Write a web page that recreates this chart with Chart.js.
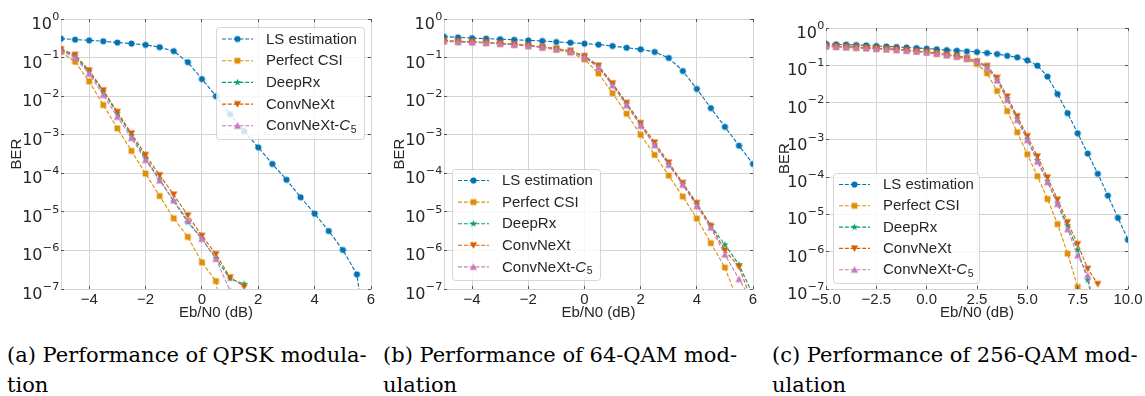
<!DOCTYPE html>
<html>
<head>
<meta charset="utf-8">
<script src="https://cdn.jsdelivr.net/npm/chart.js"></script>
<style>
  body { margin: 0; background: #fff; width: 1145px; height: 396px; overflow: hidden; position: relative; }
  .panel { position: absolute; top: 0; }
  .caption { position: absolute; top: 340px; font-family: "DejaVu Serif", serif; font-size: 21px; line-height: 30px; color: #000; white-space: nowrap; }
</style>
</head>
<body>
<canvas id="graficaA" class="panel" width="380" height="325" style="left:0px"></canvas>
<canvas id="graficaB" class="panel" width="385" height="325" style="left:380px"></canvas>
<canvas id="graficaC" class="panel" width="385" height="325" style="left:760px"></canvas>
<div class="caption" style="left:7px">(a) Performance of QPSK modula-<br>tion</div>
<div class="caption" style="left:383px">(b) Performance of 64-QAM mod-<br>ulation</div>
<div class="caption" style="left:772px">(c) Performance of 256-QAM mod-<br>ulation</div>
<script>
// Eb/N0 (dB) de cada figura
const snrQpsk = [-5, -4.5, -4, -3.5, -3, -2.5, -2, -1.5, -1, -0.5, 0, 0.5, 1, 1.5, 2, 2.5, 3, 3.5, 4, 4.5, 5, 5.5, 6];
const snr64 = [-5, -4.5, -4, -3.5, -3, -2.5, -2, -1.5, -1, -0.5, 0, 0.5, 1, 1.5, 2, 2.5, 3, 3.5, 4, 4.5, 5, 5.5, 6];
const snr256 = [-5, -4.5, -4, -3.5, -3, -2.5, -2, -1.5, -1, -0.5, 0, 0.5, 1, 1.5, 2, 2.5, 3, 3.5, 4, 4.5, 5, 5.5, 6, 6.5, 7, 7.5, 8, 8.5, 9, 9.5, 10];

const nombres = ['LS estimation', 'Perfect CSI', 'DeepRx', 'ConvNeXt', 'ConvNeXt-C₅'];

// (a) QPSK
const lsQpsk = [0.31, 0.293, 0.28, 0.265, 0.245, 0.231, 0.214, 0.186, 0.147, 0.076, 0.0278, 0.0100, 0.0034, 0.00124, 4.7e-4, 1.75e-4, 6.8e-5, 2.4e-5, 9.0e-6, 3.2e-6, 1.03e-6, 2.4e-7, 5e-10];
const perfectQpsk = [0.141, 0.078, 0.024, 0.0059, 0.00146, 3.8e-4, 9.8e-5, 2.57e-5, 6.8e-6, 2.24e-6, 4.9e-7, 1.6e-7, 4e-10];
const deeprxQpsk = [0.158, 0.109, 0.043, 0.0131, 0.0036, 9.4e-4, 2.5e-4, 6.8e-5, 1.9e-5, 5.4e-6, 2.0e-6, 6.2e-7, 1.85e-7, 1.35e-7];
const convnextQpsk = [0.165, 0.118, 0.0465, 0.0142, 0.0039, 0.00108, 3.0e-4, 8.9e-5, 2.8e-5, 8.1e-6, 2.4e-6, 8.0e-7, 2.0e-7, 1.15e-7];
const c5Qpsk = [0.15, 0.1, 0.038, 0.0107, 0.0029, 8.2e-4, 2.2e-4, 6.5e-5, 2.0e-5, 6.0e-6, 2.0e-6, 6.0e-7, 9e-8];

// (b) 64-QAM
const ls64 = [0.35, 0.335, 0.32, 0.31, 0.30, 0.29, 0.28, 0.27, 0.254, 0.244, 0.23, 0.217, 0.20, 0.18, 0.164, 0.14, 0.098, 0.045, 0.0154, 0.0049, 0.0016, 5.2e-4, 1.75e-4];
const perfect64 = [0.264, 0.254, 0.25, 0.24, 0.225, 0.212, 0.20, 0.18, 0.16, 0.134, 0.09, 0.039, 0.0119, 0.0035, 0.001, 3.0e-4, 8.7e-5, 2.5e-5, 6.7e-6, 1.55e-6, 3.6e-7, 4e-8];
const deeprx64 = [0.27, 0.26, 0.254, 0.242, 0.232, 0.22, 0.204, 0.188, 0.168, 0.148, 0.106, 0.058, 0.02, 0.0062, 0.0018, 5.5e-4, 1.7e-4, 5.2e-5, 1.55e-5, 4.4e-6, 1.4e-6, 4.3e-7, 7e-8];
const convnext64 = [0.275, 0.264, 0.257, 0.245, 0.235, 0.223, 0.207, 0.19, 0.17, 0.151, 0.11, 0.062, 0.0215, 0.0067, 0.002, 6.3e-4, 1.9e-4, 5.6e-5, 1.7e-5, 4.3e-6, 1.0e-6, 3.8e-7, 4e-8];
const c564 = [0.266, 0.256, 0.25, 0.239, 0.229, 0.217, 0.2, 0.185, 0.165, 0.145, 0.10, 0.055, 0.019, 0.0058, 0.0017, 5.3e-4, 1.65e-4, 5.0e-5, 1.4e-5, 3.9e-6, 7.8e-7, 1.8e-7, 4.4e-8];

// (c) 256-QAM
const ls256 = [0.38, 0.365, 0.36, 0.35, 0.343, 0.33, 0.32, 0.31, 0.30, 0.29, 0.28, 0.27, 0.257, 0.247, 0.237, 0.228, 0.214, 0.20, 0.18, 0.164, 0.136, 0.098, 0.05, 0.017, 0.0052, 0.0015, 4.3e-4, 1.23e-4, 3.2e-5, 8.1e-6, 2.1e-6];
const perfect256 = [0.316, 0.31, 0.30, 0.29, 0.285, 0.274, 0.267, 0.257, 0.247, 0.232, 0.218, 0.20, 0.185, 0.167, 0.145, 0.109, 0.061, 0.0205, 0.0059, 0.0016, 4.1e-4, 1.06e-4, 2.6e-5, 5.5e-6, 8.9e-7, 1.13e-7];
const deeprx256 = [0.33, 0.32, 0.31, 0.30, 0.295, 0.285, 0.275, 0.265, 0.25, 0.24, 0.225, 0.21, 0.19, 0.175, 0.155, 0.123, 0.088, 0.04, 0.0128, 0.0037, 1.05e-3, 2.8e-4, 7.8e-5, 2.0e-5, 5.0e-6, 1.1e-6, 1.75e-7, 1e-8];
const convnext256 = [0.335, 0.325, 0.315, 0.305, 0.298, 0.288, 0.278, 0.268, 0.254, 0.243, 0.228, 0.213, 0.193, 0.178, 0.158, 0.128, 0.096, 0.046, 0.0145, 0.0043, 0.00126, 3.6e-4, 9.8e-5, 2.5e-5, 6.2e-6, 1.6e-6, 3.5e-7, 1.36e-7];
const c5256 = [0.325, 0.315, 0.305, 0.296, 0.29, 0.28, 0.27, 0.26, 0.246, 0.236, 0.222, 0.207, 0.188, 0.172, 0.152, 0.125, 0.088, 0.039, 0.0118, 0.0034, 9.8e-4, 2.6e-4, 7.3e-5, 1.9e-5, 4.0e-6, 8.0e-7, 2.3e-7, 1e-8];

// ejes
const xTicksAB = [-4, -2, 0, 2, 4, 6];
const xLabelsAB = ['−4', '−2', '0', '2', '4', '6'];
const xTicksC = [-5, -2.5, 0, 2.5, 5, 7.5, 10];
const xLabelsC = ['−5.0', '−2.5', '0.0', '2.5', '5.0', '7.5', '10.0'];
const yTicks = [1e-7, 1e-6, 1e-5, 1e-4, 1e-3, 1e-2, 1e-1, 1];
const yLabels = ['10⁻⁷', '10⁻⁶', '10⁻⁵', '10⁻⁴', '10⁻³', '10⁻²', '10⁻¹', '10⁰'];

const colores = ['#0173b2', '#de8f05', '#029e73', '#d55e00', '#cc78bc'];
const formas = ['circle', 'square', 'star', 'down', 'up'];
const textoColor = '#262626';
const gris = '#d4d4d4';

Chart.defaults.font.family = '"Liberation Sans", Arial, sans-serif';
Chart.defaults.color = textoColor;

function crearMarcador(forma, color) {
    const c = document.createElement('canvas');
    c.width = 9; c.height = 9;
    const g = c.getContext('2d');
    const m = 4.5;
    g.fillStyle = color;
    g.beginPath();
    if (forma === 'circle') g.arc(m, m, 3.1, 0, Math.PI * 2);
    else if (forma === 'square') g.rect(m - 2.9, m - 2.9, 5.8, 5.8);
    else if (forma === 'star') {
        for (let k = 0; k < 10; k++) {
            const r = k % 2 ? 1.6 : 3.8;
            const a = -Math.PI / 2 + k * Math.PI / 5;
            g.lineTo(m + r * Math.cos(a), m + r * Math.sin(a));
        }
        g.closePath();
    } else if (forma === 'down') {
        g.moveTo(m - 3.6, m - 3); g.lineTo(m + 3.6, m - 3); g.lineTo(m, m + 3.4); g.closePath();
    } else {
        g.moveTo(m - 3.6, m + 3); g.lineTo(m + 3.6, m + 3); g.lineTo(m, m - 3.4); g.closePath();
    }
    g.fill();
    return c;
}

function juntar(x, y) {
    return y.map((v, i) => ({ x: x[i], y: v }));
}

function dibujarEtiqueta(ctx, texto, x, y) {
    ctx.font = '15px "Liberation Sans"';
    if (texto.endsWith('C₅')) {
        const base = texto.slice(0, -2);
        ctx.fillText(base, x, y);
        let w = ctx.measureText(base).width;
        ctx.font = 'italic 15px "Liberation Sans"';
        ctx.fillText('C', x + w, y);
        w += ctx.measureText('C').width;
        ctx.font = '10.5px "Liberation Sans"';
        ctx.fillText('5', x + w + 0.5, y + 4);
    } else {
        ctx.fillText(texto, x, y);
    }
}

// superindices unicode -> texto normal para escribir el exponente
const normal = { '⁻': '−', '⁰': '0', '¹': '1', '²': '2', '³': '3', '⁴': '4', '⁵': '5', '⁶': '6', '⁷': '7' };

// etiquetas 10^n del eje Y con exponente grande (como mathtext)
const pluginPotencias = {
    id: 'potenciasY',
    afterDraw(chart) {
        const { ctx, chartArea, scales } = chart;
        const y = scales.y;
        ctx.save();
        ctx.fillStyle = textoColor;
        ctx.textBaseline = 'alphabetic';
        ctx.textAlign = 'left';
        y.ticks.forEach(t => {
            const lab = yLabels[yTicks.indexOf(t.value)];
            const base = lab.slice(0, 2);
            const exp = Array.from(lab.slice(2)).map(ch => normal[ch]).join('');
            const py = y.getPixelForValue(t.value);
            ctx.font = '16px "DejaVu Sans"';
            const w1 = ctx.measureText(base).width;
            ctx.font = '11.2px "DejaVu Sans"';
            const w2 = ctx.measureText(exp).width;
            const x0 = chartArea.left - 2 - w2 - w1;
            ctx.font = '16px "DejaVu Sans"';
            ctx.fillText(base, x0, py + 10);
            ctx.font = '11.2px "DejaVu Sans"';
            ctx.fillText(exp, x0 + w1 + 0.3, py + 0.8);
        });
        ctx.restore();
    }
};

// leyenda dentro del area del grafico (como en matplotlib)
const pluginLeyenda = {
    id: 'leyendaInterna',
    afterDraw(chart, args, opts) {
        const { ctx, chartArea } = chart;
        const w = opts.ancho, h = opts.alto;
        const left = opts.esquina === 'tr' ? chartArea.right - opts.dx - w : chartArea.left + opts.dx;
        const top = opts.esquina === 'tr' ? chartArea.top + opts.dy : chartArea.bottom - opts.dy - h;
        ctx.save();
        ctx.beginPath();
        ctx.roundRect(left + 0.5, top + 0.5, w, h, 3);
        ctx.fillStyle = 'rgba(255,255,255,0.8)';
        ctx.fill();
        ctx.strokeStyle = 'rgba(204,204,204,0.8)';
        ctx.lineWidth = 1;
        ctx.stroke();
        ctx.textBaseline = 'middle';
        chart.data.datasets.forEach((ds, i) => {
            const cy = top + opts.primera + i * opts.paso;
            ctx.strokeStyle = ds.borderColor;
            ctx.lineWidth = ds.borderWidth;
            ctx.setLineDash(ds.borderDash);
            ctx.beginPath();
            ctx.moveTo(left + 6, cy);
            ctx.lineTo(left + 37, cy);
            ctx.stroke();
            ctx.setLineDash([]);
            const img = ds.pointStyle;
            ctx.drawImage(img, left + 21.5 - img.width / 2, cy - img.height / 2);
            ctx.fillStyle = textoColor;
            dibujarEtiqueta(ctx, ds.label, left + 50, cy + 0.5);
        });
        ctx.restore();
    }
};

// marcas cortas hacia dentro en los cuatro lados
const pluginMarcas = {
    id: 'marcasInternas',
    afterDatasetsDraw(chart) {
        const { ctx, chartArea: a, scales } = chart;
        const al = (p) => Math.round(p - 0.5) + 0.5;
        ctx.save();
        ctx.strokeStyle = '#555555';
        ctx.lineWidth = 1;
        ctx.beginPath();
        scales.x.ticks.forEach(t => {
            const px = al(scales.x.getPixelForValue(t.value));
            ctx.moveTo(px, a.bottom); ctx.lineTo(px, a.bottom - 3);
            ctx.moveTo(px, a.top); ctx.lineTo(px, a.top + 3);
        });
        scales.y.ticks.forEach(t => {
            const py = al(scales.y.getPixelForValue(t.value));
            ctx.moveTo(a.left, py); ctx.lineTo(a.left + 3, py);
            ctx.moveTo(a.right, py); ctx.lineTo(a.right - 3, py);
        });
        ctx.stroke();
        ctx.restore();
    }
};

function crearGrafica(id, snr, series, cfg) {
    const datasets = series.map((s, i) => ({
        label: nombres[i],
        data: juntar(snr, s),
        borderColor: colores[i],
        backgroundColor: colores[i],
        borderWidth: 1.1,
        borderDash: [4, 1.8],
        pointStyle: crearMarcador(formas[i], colores[i]),
        pointRadius: 3,
        order: series.length - i,
        tension: 0
    }));
    const config = {
        type: 'line',
        data: { datasets },
        plugins: [pluginMarcas, pluginPotencias, pluginLeyenda],
        options: {
            responsive: false,
            animation: false,
            events: [],
            devicePixelRatio: 1,
            layout: { autoPadding: false, padding: { top: cfg.padTop, right: cfg.padRight, left: 0, bottom: 0 } },
            plugins: {
                legend: { display: false },
                tooltip: { enabled: false },
                leyendaInterna: cfg.leyenda
            },
            scales: {
                x: {
                    type: 'linear',
                    min: cfg.xMin,
                    max: cfg.xMax,
                    afterBuildTicks: (s) => { s.ticks = cfg.xTicks.map(v => ({ value: v })); },
                    afterFit: (s) => { s.height = 36; },
                    ticks: {
                        autoSkip: false,
                        maxRotation: 0,
                        padding: 2,
                        font: { size: 15 },
                        callback: (v) => cfg.xLabels[cfg.xTicks.indexOf(v)]
                    },
                    grid: { color: gris, lineWidth: 1, drawTicks: false },
                    border: { color: gris },
                    title: { display: true, text: 'Eb/N0 (dB)', font: { size: 15 }, padding: { top: 0, bottom: 3 } }
                },
                y: {
                    type: 'logarithmic',
                    min: 1e-7,
                    max: 1,
                    afterBuildTicks: (s) => { s.ticks = yTicks.map(v => ({ value: v, major: true })); },
                    afterFit: (s) => { s.width = cfg.yAncho; },
                    ticks: {
                        display: false,
                        autoSkip: false,
                        callback: (v) => yLabels[yTicks.indexOf(v)]
                    },
                    grid: { color: gris, lineWidth: 1, drawTicks: false },
                    border: { color: gris },
                    title: { display: true, text: 'BER', font: { size: 15 }, padding: { top: cfg.tituloY, bottom: 0 } }
                }
            }
        }
    };
    return new Chart(document.getElementById(id), config);
}

crearGrafica('graficaA', snrQpsk, [lsQpsk, perfectQpsk, deeprxQpsk, convnextQpsk, c5Qpsk], {
    xMin: -5, xMax: 6, xTicks: xTicksAB, xLabels: xLabelsAB,
    yAncho: 61, padTop: 19, padRight: 9, tituloY: 8,
    leyenda: { esquina: 'tr', dx: 7, dy: 8, ancho: 148, alto: 112, primera: 12, paso: 21.7 }
});
crearGrafica('graficaB', snr64, [ls64, perfect64, deeprx64, convnext64, c564], {
    xMin: -5, xMax: 6, xTicks: xTicksAB, xLabels: xLabelsAB,
    yAncho: 64, padTop: 19, padRight: 12, tituloY: 11,
    leyenda: { esquina: 'bl', dx: 8, dy: 9, ancho: 148, alto: 111, primera: 11.5, paso: 21.6 }
});
crearGrafica('graficaC', snr256, [ls256, perfect256, deeprx256, convnext256, c5256], {
    xMin: -5, xMax: 10, xTicks: xTicksC, xLabels: xLabelsC,
    yAncho: 66, padTop: 28, padRight: 17, tituloY: 16,
    leyenda: { esquina: 'bl', dx: 7, dy: 6, ancho: 146, alto: 110, primera: 11.5, paso: 21.3 }
});
</script>
</body>
</html>
